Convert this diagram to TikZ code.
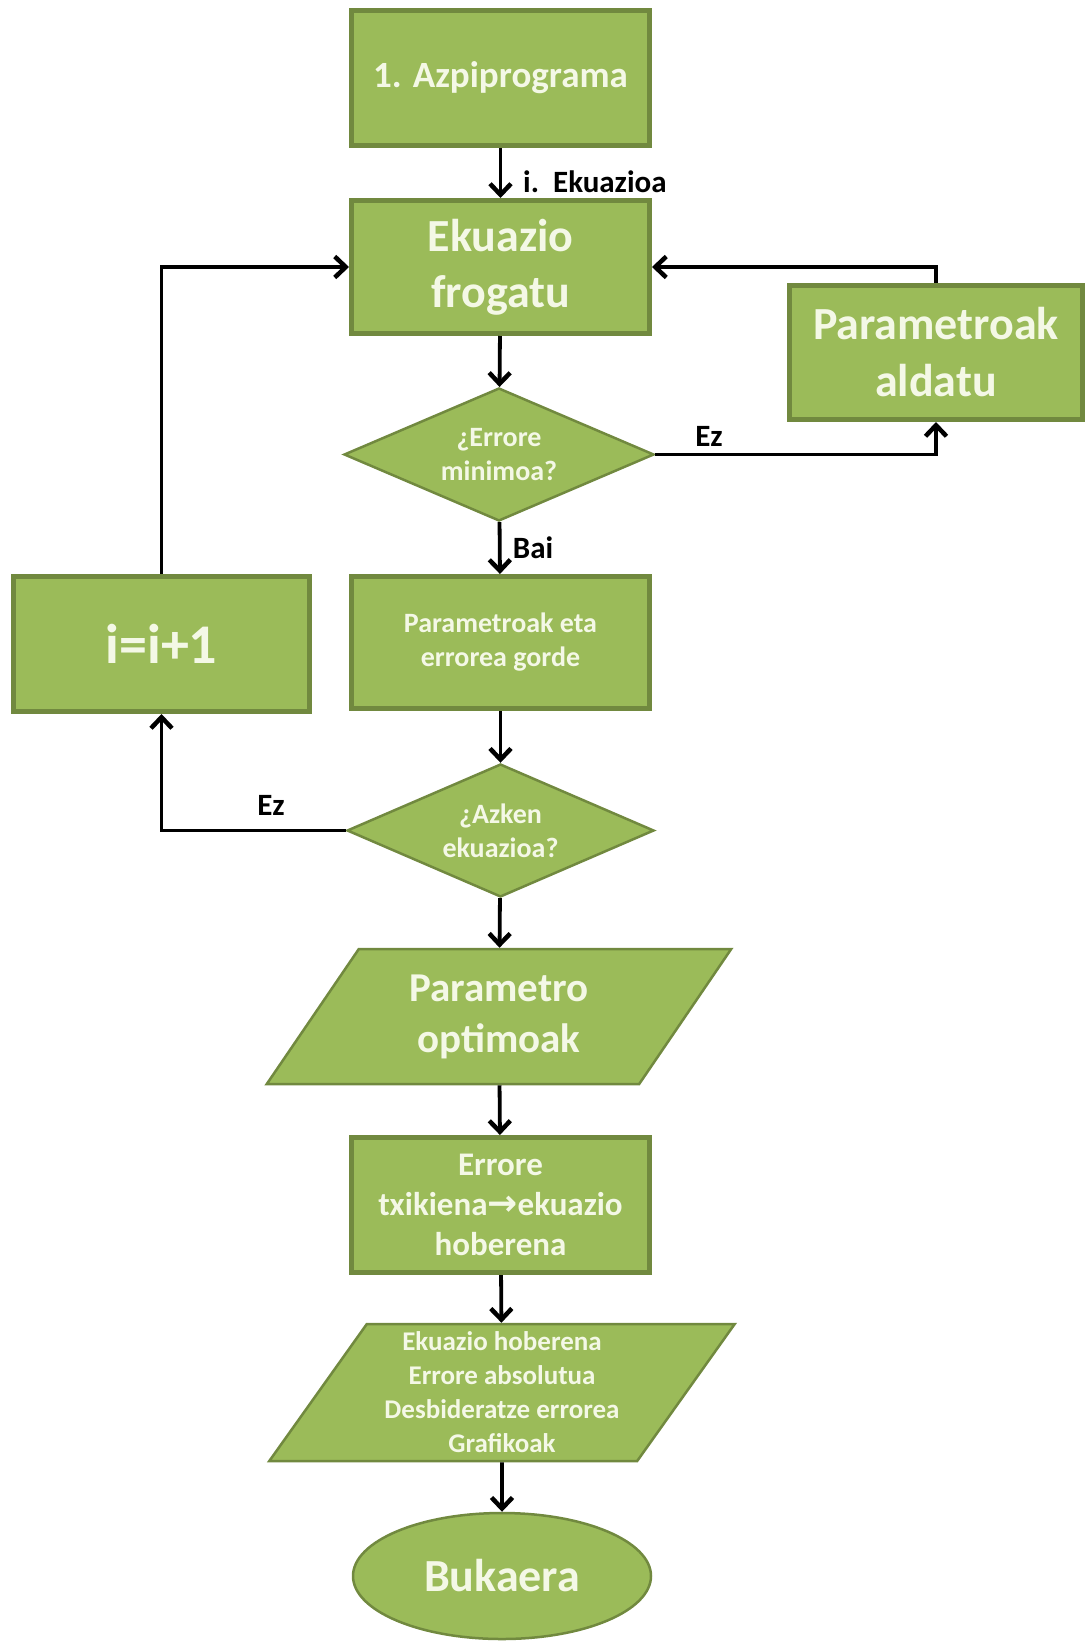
\documentclass[tikz,border=0pt]{standalone}
\usepackage{fontspec}
\setmainfont{Carlito}
\newfontfamily\arrowfont{DejaVu Sans}
\usetikzlibrary{shapes.geometric,arrows.meta}

\definecolor{boxfill}{HTML}{9BBB59}
\definecolor{boxline}{HTML}{71893F}
\definecolor{boxtext}{HTML}{F4F8E6}

\tikzset{
  flowbox/.style={rectangle, draw=boxline, fill=boxfill, line width=5pt,
    text=boxtext, align=center, inner sep=0pt},
  decision/.style={diamond, draw=boxline, fill=boxfill, line width=2.5pt,
    text=boxtext, align=center, inner sep=0pt, aspect=2.33,
    font=\fontsize{28}{34}\selectfont\bfseries},
  iobox/.style={trapezium, trapezium left angle=55, trapezium right angle=125,
    trapezium stretches=true, draw=boxline, fill=boxfill, line width=2.5pt,
    text=boxtext, align=center, inner sep=0pt},
  terminal/.style={ellipse, draw=boxline, fill=boxfill, line width=2.5pt,
    text=boxtext, align=center, inner sep=0pt},
  flowarrow/.style={draw=black, line width=3.8pt,
    -{Straight Barb[length=11pt,width=21pt,line width=4.5pt]}},
  flowlabel/.style={text=black, font=\fontsize{31}{36}\selectfont\bfseries,
    inner sep=0pt}
}

\begin{document}
\begin{tikzpicture}[x=1pt, y=-1pt]
  \useasboundingbox (0,0) rectangle (1086,1643);

  % main column
  \node[flowbox, minimum width=298pt, minimum height=135pt,
        font=\fontsize{37}{44}\selectfont\bfseries]
    (start) at (500.5,78) {1. Azpiprograma};
  \node[flowbox, minimum width=298pt, minimum height=133pt,
        font=\fontsize{46}{56}\selectfont\bfseries]
    (test) at (500.5,267) {Ekuazio\\frogatu};
  \node[decision, minimum width=310pt, minimum height=133pt]
    (minerr) at (499,454.5) {¿Errore\\minimoa?};
  \node[flowbox, minimum width=298pt, minimum height=132pt,
        font=\fontsize{28}{34}\selectfont\bfseries]
    (save) at (500.5,642.5) {Parametroak eta\\errorea gorde};
  \node[decision, minimum width=307pt, minimum height=133pt]
    (last) at (500.5,830.5) {¿Azken\\ekuazioa?};
  \node[iobox, minimum width=466pt, minimum height=135pt,
        font=\fontsize{41}{51}\selectfont\bfseries]
    (optim) at (499,1016.5) {Parametro\\optimoak};
  \node[flowbox, minimum width=298pt, minimum height=135pt,
        font=\fontsize{33}{40}\selectfont\bfseries]
    (best) at (500.5,1205)
    {Errore\\txikiena{\arrowfont\fontsize{36}{40}\selectfont →}ekuazio\\hoberena};
  \node[iobox, minimum width=468pt, minimum height=137pt,
        font=\fontsize{27}{34}\selectfont\bfseries]
    (output) at (502,1392.5)
    {Ekuazio hoberena\\Errore absolutua\\Desbideratze errorea\\Grafikoak};
  \node[terminal, minimum width=298pt, minimum height=126pt,
        font=\fontsize{46}{56}\selectfont\bfseries]
    (stop) at (502,1576) {Bukaera};

  % side boxes
  \node[flowbox, minimum width=293pt, minimum height=134pt,
        font=\fontsize{46}{57}\selectfont\bfseries]
    (change) at (936,352.5) {Parametroak\\aldatu};
  \node[flowbox, minimum width=296pt, minimum height=135pt,
        font=\fontsize{56}{60}\selectfont\bfseries]
    (next) at (161.5,644) {i=i+1};

  % connectors
  \draw[flowarrow] (start) -- (test);
  \draw[flowarrow] (test) -- (minerr);
  \draw[flowarrow] (minerr) -- (save);
  \draw[flowarrow] (save) -- (last);
  \draw[flowarrow] (last) -- (optim);
  \draw[flowarrow] (optim) -- (best);
  \draw[flowarrow] (best) -- (output);
  \draw[flowarrow] (output) -- (stop);
  \draw[flowarrow] (minerr.east) -| (change.south);
  \draw[flowarrow] (change.north) |- (test.east);
  \draw[flowarrow] (next.north) |- (test.west);
  \draw[flowarrow] (last.west) -| (next.south);

  % connector labels
  \node[flowlabel, anchor=west] (lbleq) at (523,182) {i.\ \ Ekuazioa};
  \node[flowlabel] (lblyes) at (533,548) {Bai};
  \node[flowlabel] (lblno1) at (709,436) {Ez};
  \node[flowlabel] (lblno2) at (271,805) {Ez};
\end{tikzpicture}
\end{document}
